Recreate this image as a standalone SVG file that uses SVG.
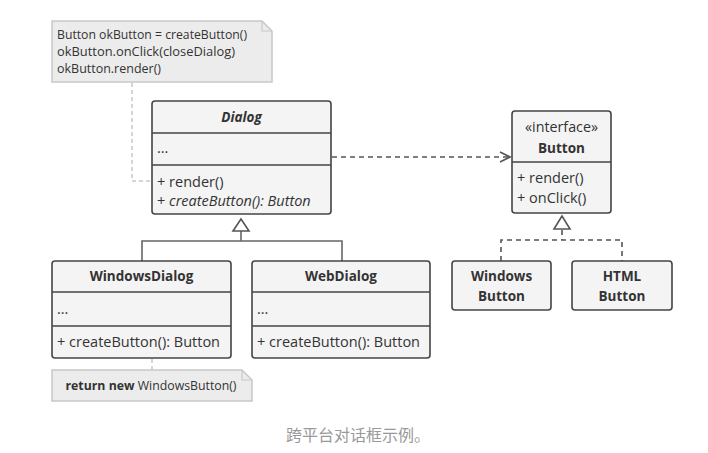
<svg xmlns="http://www.w3.org/2000/svg" width="708" height="453" viewBox="0 0 708 453">
<defs>
<style>
.box{fill:#f4f4f4;stroke:#444;stroke-width:1.6}
.div{stroke:#444;stroke-width:1.6}
.t{font-family:"Open Sans","Liberation Sans",sans-serif;font-size:14.5px;fill:#333}
.b{font-weight:bold;font-size:13.5px}
.i{font-style:italic}
.c{text-anchor:middle}
.note{fill:#ececec;stroke:#c8c8c8;stroke-width:1.5}
.nt{font-family:"Open Sans","Liberation Sans",sans-serif;font-size:12.5px;fill:#333}
.line{fill:none;stroke:#666;stroke-width:1.6}
.dash{fill:none;stroke:#555;stroke-width:1.6;stroke-dasharray:5 4}
.ndash{fill:none;stroke:#c8c8c8;stroke-width:1.5;stroke-dasharray:4 3}
.tri{fill:#fff;stroke:#555;stroke-width:1.6}
</style>
<marker id="open" viewBox="0 0 12 12" refX="11" refY="6" markerWidth="12" markerHeight="12" markerUnits="userSpaceOnUse" orient="auto">
<path d="M1 1 L11 6 L1 11" fill="none" stroke="#555" stroke-width="1.6"/>
</marker>
</defs>
<rect width="708" height="453" fill="#fff"/>
<g id="connectors">
<path class="ndash" d="M132 83 V181 H152"/>
<path class="ndash" d="M152 359 V370"/>
<path class="dash" d="M332 157 H510" marker-end="url(#open)"/>
<path class="line" d="M241 231 V241 M142 261 V241 H342 V261"/>
<polygon class="tri" points="241,219 233,231 249,231"/>
<path class="dash" d="M562 230 V240 M501 261 V240 H622 V261"/>
<polygon class="tri" points="562,216 554,229 570,229"/>
</g>
<g id="note1">
<path class="note" d="M52 21 H262 L272 31 V82 H52 Z"/>
<path d="M262 21 V31 H272" fill="none" stroke="#c8c8c8" stroke-width="1.2"/>
<text class="nt" x="57" y="38.5" textLength="190" lengthAdjust="spacingAndGlyphs">Button okButton = createButton()</text>
<text class="nt" x="57" y="55.5" textLength="178" lengthAdjust="spacingAndGlyphs">okButton.onClick(closeDialog)</text>
<text class="nt" x="57" y="72.5" textLength="104" lengthAdjust="spacingAndGlyphs">okButton.render()</text>
</g>
<g id="dialog">
<rect class="box" x="152" y="101" width="179" height="113" rx="3"/>
<line class="div" x1="152" y1="133" x2="331" y2="133"/>
<line class="div" x1="152" y1="165" x2="331" y2="165"/>
<text class="t b i c" x="241.5" y="122">Dialog</text>
<text class="t" x="157" y="153">...</text>
<text class="t" x="157" y="187">+ render()</text>
<text class="t" x="157" y="206">+ <tspan class="i">createButton(): Button</tspan></text>
</g>
<g id="windowsDialog">
<rect class="box" x="52" y="261" width="179" height="97" rx="3"/>
<line class="div" x1="52" y1="292" x2="231" y2="292"/>
<line class="div" x1="52" y1="326" x2="231" y2="326"/>
<text class="t b c" x="141.5" y="281">WindowsDialog</text>
<text class="t" x="57" y="314">...</text>
<text class="t" x="57" y="347">+ createButton(): Button</text>
</g>
<g id="webDialog">
<rect class="box" x="252" y="261" width="178" height="97" rx="3"/>
<line class="div" x1="252" y1="292" x2="430" y2="292"/>
<line class="div" x1="252" y1="326" x2="430" y2="326"/>
<text class="t b c" x="341" y="281">WebDialog</text>
<text class="t" x="257" y="314">...</text>
<text class="t" x="257" y="347">+ createButton(): Button</text>
</g>
<g id="button">
<rect class="box" x="512" y="111" width="99" height="102" rx="3"/>
<line class="div" x1="512" y1="162" x2="611" y2="162"/>
<text class="t c" x="561.5" y="132" textLength="73" lengthAdjust="spacingAndGlyphs">«interface»</text>
<text class="t b c" x="561.5" y="153">Button</text>
<text class="t" x="517" y="183">+ render()</text>
<text class="t" x="517" y="203">+ onClick()</text>
</g>
<g id="windowsButton">
<rect class="box" x="452" y="261" width="99" height="49" rx="3"/>
<text class="t b c" x="501.5" y="281">Windows</text>
<text class="t b c" x="501.5" y="301">Button</text>
</g>
<g id="htmlButton">
<rect class="box" x="572" y="261" width="100" height="49" rx="3"/>
<text class="t b c" x="622" y="281">HTML</text>
<text class="t b c" x="622" y="301">Button</text>
</g>
<g id="note2">
<path class="note" d="M52 370 H242 L252 380 V401 H52 Z"/>
<path d="M242 370 V380 H252" fill="none" stroke="#c8c8c8" stroke-width="1.2"/>
<text class="nt c" x="151" y="390" textLength="171" lengthAdjust="spacingAndGlyphs"><tspan class="b" style="font-size:12.5px">return new</tspan> WindowsButton()</text>
</g>
<text x="358" y="441" text-anchor="middle" font-family="'Noto Sans CJK SC',sans-serif" font-size="16" fill="#999">跨平台对话框示例。</text>
</svg>
